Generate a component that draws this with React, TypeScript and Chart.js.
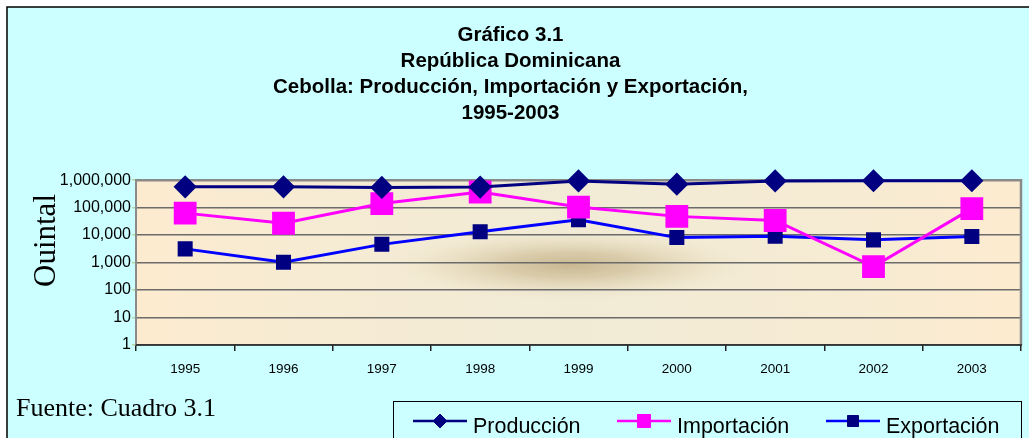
import React, { useEffect, useRef } from 'react';
import { Chart, registerables } from 'chart.js';

Chart.register(...registerables);

const years = ['1995', '1996', '1997', '1998', '1999', '2000', '2001', '2002', '2003'];
const produccion = [570000, 570000, 540000, 560000, 940000, 710000, 940000, 950000, 950000];
const importacion = [63000, 27000, 140000, 370000, 105000, 48000, 34000, 710, 92000];
const exportacion = [3150, 1020, 4600, 13200, 36000, 8100, 9100, 6700, 8900];
const yTickValues = [1, 10, 100, 1000, 10000, 100000, 1000000];
const titleLines = [
  'Gráfico 3.1',
  'República Dominicana',
  'Cebolla: Producción, Importación y Exportación,',
  '1995-2003',
];
const yAxisTitle = 'Ouintal';
const sourceNote = 'Fuente: Cuadro 3.1';
const seriesNames = ['Producción', 'Importación', 'Exportación'];

const SANS = '"Liberation Sans", Arial, sans-serif';
const SERIF = '"Liberation Serif", "Times New Roman", serif';
const CYAN = '#ccffff';

function drawMarker(ctx: CanvasRenderingContext2D, style: string, x: number, y: number, r: number, fill: string, stroke: string) {
  ctx.save();
  ctx.fillStyle = fill;
  ctx.strokeStyle = stroke;
  ctx.lineWidth = 1;
  ctx.beginPath();
  if (style === 'rectRot') {
    ctx.moveTo(x - r, y);
    ctx.lineTo(x, y - r);
    ctx.lineTo(x + r, y);
    ctx.lineTo(x, y + r);
    ctx.closePath();
  } else {
    ctx.rect(x - r, y - r, 2 * r, 2 * r);
  }
  ctx.fill();
  ctx.stroke();
  ctx.restore();
}

const decorPlugin = {
  id: 'decor',
  beforeDraw(chart: any) {
    const ctx: CanvasRenderingContext2D = chart.ctx;
    const { width, height } = chart;
    const a = chart.chartArea;
    ctx.save();
    ctx.fillStyle = '#ffffff';
    ctx.fillRect(0, 0, width, height);
    ctx.fillStyle = CYAN;
    ctx.fillRect(7, 7, width, height);
    ctx.strokeStyle = '#000000';
    ctx.lineWidth = 1.5;
    ctx.beginPath();
    ctx.moveTo(7, height);
    ctx.lineTo(7, 7);
    ctx.lineTo(width, 7);
    ctx.stroke();

    // plot area fill
    const lg = ctx.createLinearGradient(a.left, 0, a.right, 0);
    lg.addColorStop(0, '#fdebcf');
    lg.addColorStop(0.12, '#f8ebd2');
    lg.addColorStop(0.5, '#f1ebd6');
    lg.addColorStop(0.88, '#f8ebd2');
    lg.addColorStop(1, '#fdebcf');
    ctx.fillStyle = lg;
    ctx.fillRect(a.left, a.top, a.right - a.left, a.bottom - a.top);

    ctx.beginPath();
    ctx.rect(a.left, a.top, a.right - a.left, a.bottom - a.top);
    ctx.clip();
    const cx = a.left + (a.right - a.left) * 0.49;
    const cy = 265;
    const rx = 185;
    const ry = 36;
    ctx.translate(cx, cy);
    ctx.scale(1, ry / rx);
    const rg = ctx.createRadialGradient(0, 0, 0, 0, 0, rx);
    rg.addColorStop(0, 'rgba(198,178,138,0.9)');
    rg.addColorStop(0.35, 'rgba(207,190,152,0.7)');
    rg.addColorStop(0.7, 'rgba(222,208,174,0.33)');
    rg.addColorStop(1, 'rgba(240,232,210,0)');
    ctx.fillStyle = rg;
    ctx.fillRect(-rx, -rx, 2 * rx, 2 * rx);
    ctx.restore();
  },
  beforeDatasetsDraw(chart: any) {
    const ctx: CanvasRenderingContext2D = chart.ctx;
    const a = chart.chartArea;
    ctx.save();
    ctx.strokeStyle = '#8a8a8a';
    ctx.lineWidth = 2.5;
    ctx.beginPath();
    ctx.moveTo(a.left, a.top);
    ctx.lineTo(a.right, a.top);
    ctx.lineTo(a.right, a.bottom);
    ctx.stroke();
    ctx.strokeStyle = '#222222';
    ctx.lineWidth = 1.5;
    ctx.beginPath();
    ctx.moveTo(a.left, a.bottom);
    ctx.lineTo(a.right + 1, a.bottom);
    ctx.stroke();
    ctx.restore();
  },
  afterDraw(chart: any) {
    const ctx: CanvasRenderingContext2D = chart.ctx;
    ctx.save();
    // y axis title
    ctx.save();
    ctx.translate(55, 240.5);
    ctx.rotate(-Math.PI / 2);
    ctx.font = `31px ${SERIF}`;
    ctx.fillStyle = '#000000';
    ctx.textAlign = 'center';
    ctx.textBaseline = 'alphabetic';
    ctx.fillText(yAxisTitle, 0, 0);
    ctx.restore();

    // source note
    ctx.font = `26px ${SERIF}`;
    ctx.fillStyle = '#000000';
    ctx.textAlign = 'left';
    ctx.textBaseline = 'alphabetic';
    ctx.fillText(sourceNote, 16, 416);

    // legend box
    ctx.fillStyle = CYAN;
    ctx.fillRect(393, 401, 628, 60);
    ctx.strokeStyle = '#000000';
    ctx.lineWidth = 1;
    ctx.strokeRect(393.5, 401.5, 628, 60);

    const starts = [413, 617, 826];
    const ly = 421;
    chart.data.datasets.forEach((ds: any, i: number) => {
      const x0 = starts[i];
      ctx.strokeStyle = ds.borderColor;
      ctx.lineWidth = 2.5;
      ctx.beginPath();
      ctx.moveTo(x0, ly);
      ctx.lineTo(x0 + 54, ly);
      ctx.stroke();
      const r = ds.pointStyle === 'rectRot' ? 7 : (i === 1 ? 6.5 : 5.5);
      drawMarker(ctx, ds.pointStyle, x0 + 27, ly, r, ds.pointBackgroundColor, ds.pointBorderColor);
      ctx.font = `21.5px ${SANS}`;
      ctx.fillStyle = '#000000';
      ctx.textAlign = 'left';
      ctx.textBaseline = 'alphabetic';
      ctx.fillText(ds.label, x0 + 60, 433);
    });
    ctx.restore();
  },
};

export default function App() {
  const ref = useRef<HTMLCanvasElement | null>(null);

  useEffect(() => {
    if (!ref.current) return;
    const chart = new Chart(ref.current, {
      type: 'line',
      data: {
        labels: years,
        datasets: [
          {
            label: seriesNames[0],
            data: produccion,
            borderColor: '#000080',
            backgroundColor: '#000080',
            pointBackgroundColor: '#000080',
            pointBorderColor: '#000080',
            pointStyle: 'rectRot',
            pointRadius: 9.5,
            borderWidth: 3,
            tension: 0,
            clip: false,
          } as any,
          {
            label: seriesNames[1],
            data: importacion,
            borderColor: '#ff00ff',
            backgroundColor: '#ff00ff',
            pointBackgroundColor: '#ff00ff',
            pointBorderColor: '#ff00ff',
            pointStyle: 'rect',
            pointRadius: 14,
            borderWidth: 3,
            tension: 0,
            clip: false,
          } as any,
          {
            label: seriesNames[2],
            data: exportacion,
            borderColor: '#0000ff',
            backgroundColor: '#000080',
            pointBackgroundColor: '#000080',
            pointBorderColor: '#000080',
            pointStyle: 'rect',
            pointRadius: 8.5,
            borderWidth: 3,
            tension: 0,
            clip: false,
          } as any,
        ],
      },
      options: {
        responsive: false,
        animation: false,
        events: [],
        layout: { autoPadding: false, padding: { left: 0, right: 8, top: 0, bottom: 53 } },
        plugins: {
          legend: { display: false },
          tooltip: { enabled: false },
          title: {
            display: true,
            text: titleLines,
            color: '#000000',
            font: { family: SANS, size: 20.5, weight: 'bold', lineHeight: 1.27 },
            padding: { top: 22, bottom: 54 },
          },
        },
        scales: {
          x: {
            type: 'category',
            offset: true,
            border: { display: false },
            grid: {
              offset: true,
              drawOnChartArea: false,
              drawTicks: true,
              tickLength: 6,
              tickColor: '#222222',
              lineWidth: 1.5,
            },
            ticks: {
              color: '#000000',
              font: { family: SANS, size: 13.5 },
              padding: 10,
              maxRotation: 0,
            },
            afterFit: (scale: any) => {
              scale.height = 40;
              scale.paddingLeft = 0;
              scale.paddingRight = 0;
            },
          },
          y: {
            type: 'logarithmic',
            min: 1,
            max: 1000000,
            border: { display: true, color: '#8a8a8a', width: 2 },
            grid: {
              color: '#6b6b6b',
              lineWidth: 1.5,
              drawTicks: true,
              tickLength: 4,
              tickColor: '#b8d8a0',
            },
            ticks: {
              color: '#000000',
              font: { family: SANS, size: 16 },
              padding: 1,
              callback: (v: any) => Number(v).toLocaleString('en-US'),
            },
            afterBuildTicks: (scale: any) => {
              scale.ticks = yTickValues.map((v) => ({ value: v }));
            },
            afterFit: (scale: any) => {
              scale.width = 136;
            },
          },
        },
      },
      plugins: [decorPlugin],
    });
    return () => chart.destroy();
  }, []);

  return (
    <div style={{ position: 'fixed', left: 0, top: 0, width: 1029, height: 438 }}>
      <canvas ref={ref} width={1029} height={438} />
    </div>
  );
}
